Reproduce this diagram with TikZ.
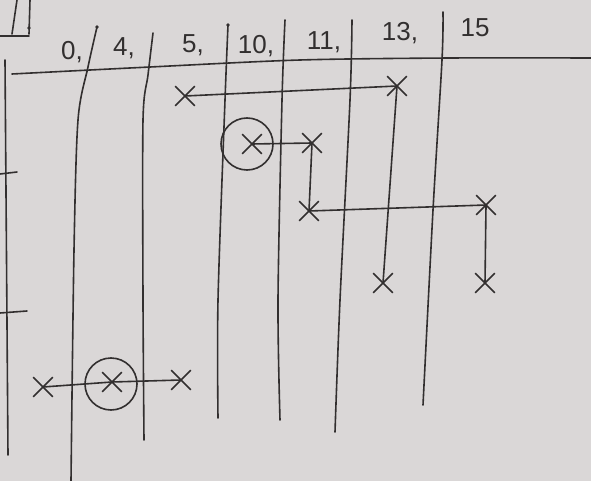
\documentclass[tikz,border=0pt]{standalone}
\usepackage{fontspec}
\setmainfont{Liberation Sans}
\usetikzlibrary{shapes.misc}
\definecolor{paper}{RGB}{218,215,215}
\definecolor{pencil}{RGB}{50,47,47}
\begin{document}
\begin{tikzpicture}[x=1pt,y=-1pt,
  pen/.style={line width=1.6pt, draw=pencil, line cap=round, line join=round},
  xmark/.style={cross out, draw=pencil, line width=1.6pt, minimum size=18pt, inner sep=0pt},
  ring/.style={circle, draw=pencil, line width=1.6pt, minimum size=52pt, inner sep=0pt},
  lbl/.style={font=\fontsize{26}{26}\selectfont, text=pencil, inner sep=0pt},
  link/.style={pen}]
\fill[paper] (0,0) rectangle (591,481);
\useasboundingbox (0,0) rectangle (591,481);
% top-left fragment
\draw[pen] (0,36) -- (29,36);
\draw[pen] (17,0) -- (12,34);
\draw[pen] (30,0) -- (29,34);
\fill[pencil] (29,28) circle (1.8pt);
% header line
\draw[pen] plot[smooth] coordinates {(12,74) (150,67) (300,60) (450,58) (591,58)};
% left edge and ticks
\draw[pen] (5,60) -- (8,455);
\draw[pen] (0,174) -- (17,172);
\draw[pen] (0,313) -- (27,311);
% column lines
\draw[pen] plot[smooth] coordinates {(97,27) (88,67) (78,120) (74,250) (71,481)};
\draw[pen] plot[smooth] coordinates {(153,33) (148,75) (143,120) (143,300) (144,440)};
\draw[pen] plot[smooth] coordinates {(228,25) (225,100) (218,300) (218,418)};
\draw[pen] plot[smooth] coordinates {(285,20) (282,100) (278,300) (280,420)};
\draw[pen] plot[smooth] coordinates {(352,20) (350,100) (340,300) (335,432)};
\draw[pen] plot[smooth] coordinates {(443,12) (442,60) (433,210) (423,405)};
\fill[pencil] (97,27) circle (1.8pt);
\fill[pencil] (228,25) circle (1.8pt);
% labels
\node[lbl] (l0) at (72,52) {0,};
\node[lbl] (l4) at (124,48) {4,};
\node[lbl] (l5) at (193,45) {5,};
\node[lbl] (l10) at (256,46) {10,};
\node[lbl] (l11) at (324,42) {11,};
\node[lbl] (l13) at (400,33) {13,};
\node[lbl] (l15) at (475,28) {15};
% marks
\node[xmark] (x5) at (185,96) {};
\node[xmark] (x13a) at (397,86) {};
\node[xmark] (x13b) at (383,283) {};
\node[ring] (ringA) at (247,144) {};
\node[xmark] (x10) at (252,144) {};
\node[xmark] (x11a) at (312,143) {};
\node[xmark] (x11b) at (309,211) {};
\node[xmark] (x15a) at (486,205) {};
\node[xmark] (x15b) at (485,283) {};
\node[xmark] (x0) at (43,387) {};
\node[ring] (ringB) at (111,384) {};
\node[xmark] (x4) at (112,382) {};
\node[xmark] (x5b) at (181,380) {};
% connectors
\draw[link] (x5.center) -- (x13a.center);
\draw[link] (x13a.center) -- (x13b.center);
\draw[link] (x10.center) -- (x11a.center);
\draw[link] (x11a.center) -- (x11b.center);
\draw[link] (x11b.center) -- (x15a.center);
\draw[link] (x15a.center) -- (x15b.center);
\draw[link] (x0.center) -- (x4.center);
\draw[link] (x4.center) -- (x5b.center);
\end{tikzpicture}
\end{document}
